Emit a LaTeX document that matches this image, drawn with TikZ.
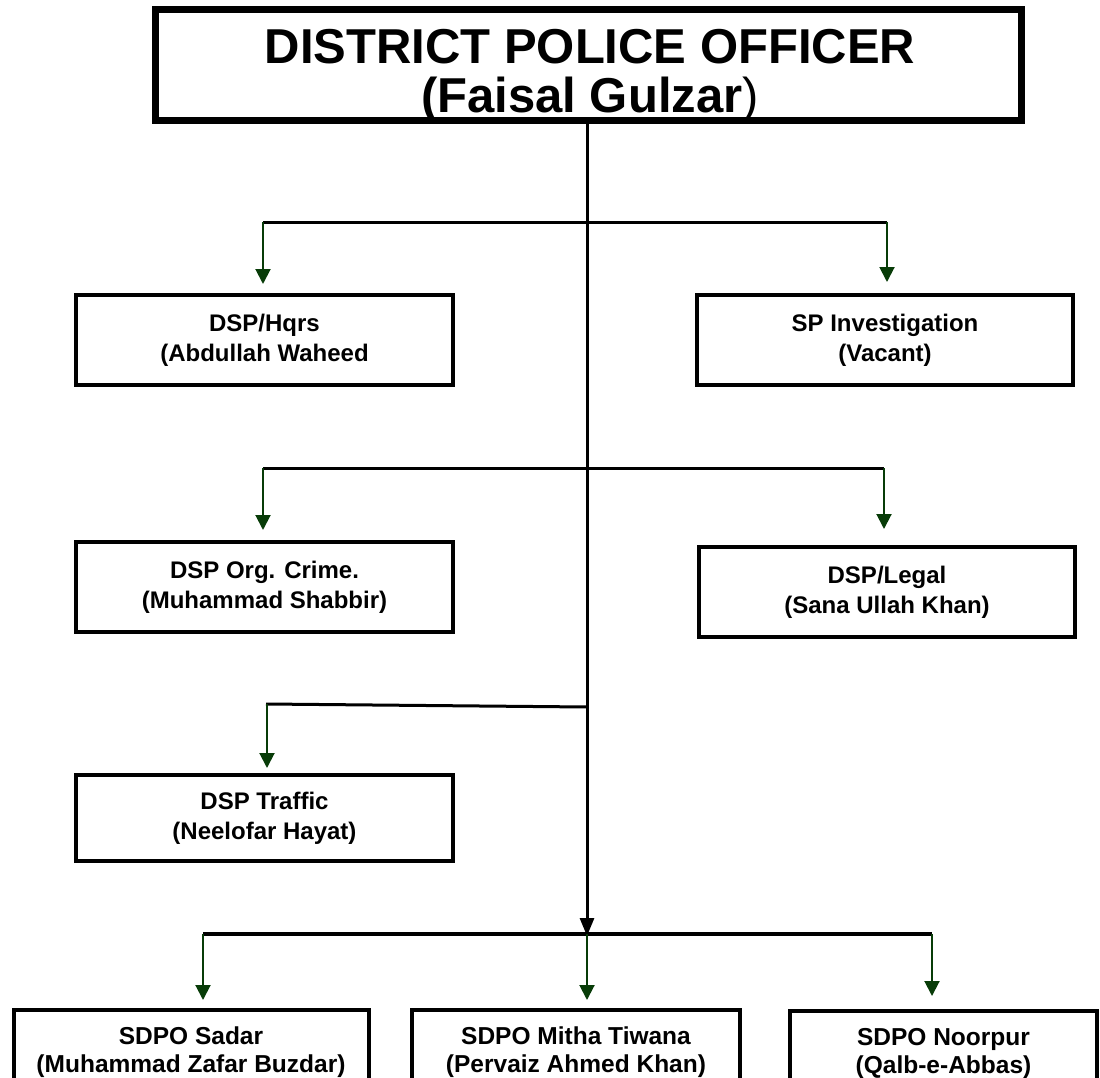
\documentclass[tikz,border=0pt]{standalone}
\usepackage{fontspec}
\setmainfont{Liberation Sans}
\usetikzlibrary{arrows.meta}
\definecolor{arrgreen}{RGB}{8,60,8}
\begin{document}
\begin{tikzpicture}[x=1pt,y=-1pt,
  box/.style={draw=black, line width=4pt, fill=white, rectangle, align=center,
    inner sep=0pt, font=\fontsize{24}{30}\selectfont\bfseries},
  topbox/.style={draw=black, line width=7pt, fill=white, rectangle, inner sep=0pt},
  toptxt/.style={align=center, inner sep=0pt, font=\fontsize{49}{49}\selectfont\bfseries},
  txt/.style={align=center, inner sep=0pt, font=\fontsize{24.5}{28}\selectfont\bfseries},
  trunk/.style={draw=black, line width=3pt},
  bar/.style={draw=black, line width=4pt},
  garr/.style={draw=arrgreen, line width=2pt, -{Triangle[width=15pt,length=15pt]}},
  barr/.style={draw=black, line width=3pt, -{Triangle[width=14pt,length=18pt]}}
]
\useasboundingbox (0,0) rectangle (1100,1078);
\clip (0,0) rectangle (1100,1078);

% top
\node[topbox, minimum width=866, minimum height=111] (dpo) at (588,65) {};
\node[toptxt] (dpot) at (590,76) {DISTRICT POLICE OFFICER\\(Faisal Gulzar{\mdseries)}};

% boxes
\node[box, minimum width=377, minimum height=90] (hqrs) at (264.5,340) {DSP/Hqrs\\(Abdullah Waheed};
\node[box, minimum width=376, minimum height=90] (spinv) at (885,340) {SP Investigation\\(Vacant)};
\node[box, minimum width=377, minimum height=90] (org) at (264.5,587) {DSP Org. Crime.\\(Muhammad Shabbir)};
\node[box, minimum width=376, minimum height=90] (legal) at (887,592) {DSP/Legal\\(Sana Ullah Khan)};
\node[box, minimum width=377, minimum height=86] (traffic) at (264.5,818) {DSP Traffic\\(Neelofar Hayat)};

\node[box, minimum width=355, minimum height=120, anchor=north] (sadar) at (191,1008) {};
\node[box, minimum width=328, minimum height=120, anchor=north] (mitha) at (576,1008) {};
\node[box, minimum width=307, minimum height=120, anchor=north] (noor) at (943.5,1009) {};
\node[txt, anchor=north] (sadart) at ([yshift=-19pt]sadar.north) {SDPO Sadar\\(Muhammad Zafar Buzdar)};
\node[txt, anchor=north] (mithat) at ([yshift=-19pt]mitha.north) {SDPO Mitha Tiwana\\(Pervaiz Ahmed Khan)};
\node[txt, anchor=north] (noort) at ([yshift=-19pt]noor.north) {SDPO Noorpur\\(Qalb-e-Abbas)};

% coordinates
\coordinate (t1) at (587,222.5);
\coordinate (l1) at (263,222.5);
\coordinate (r1) at (887,222.5);
\coordinate (t2) at (587,468);
\coordinate (l2) at (263,468);
\coordinate (r2) at (884,468);
\coordinate (t3) at (587,707);
\coordinate (l3) at (266,704);
\coordinate (bm) at (587,934);
\coordinate (bl) at (203,934);
\coordinate (br) at (932,934);

% trunk
\draw[barr] (dpo.south -| bm) -- ([yshift=-2pt]bm);
\draw[trunk] (l1) -- (r1);
\draw[trunk] (l2) -- (r2);
\draw[trunk] (l3) -- (t3);
\draw[bar] (bl) -- (br);

% green arrows
\draw[garr, shorten >=9pt] (l1) -- (l1 |- hqrs.north);
\draw[garr, shorten >=11pt] (r1) -- (r1 |- spinv.north);
\draw[garr, shorten >=10pt] (l2) -- (l2 |- org.north);
\draw[garr, shorten >=16pt] (r2) -- (r2 |- legal.north);
\draw[garr, shorten >=5pt] ([xshift=1pt]l3) -- ([xshift=1pt]l3 |- traffic.north);
\draw[garr, shorten >=8pt] (bl) -- (bl |- sadar.north);
\draw[garr, shorten >=8pt] (bm) -- (bm |- mitha.north);
\draw[garr, shorten >=13pt] (br) -- (br |- noor.north);
\end{tikzpicture}
\end{document}
